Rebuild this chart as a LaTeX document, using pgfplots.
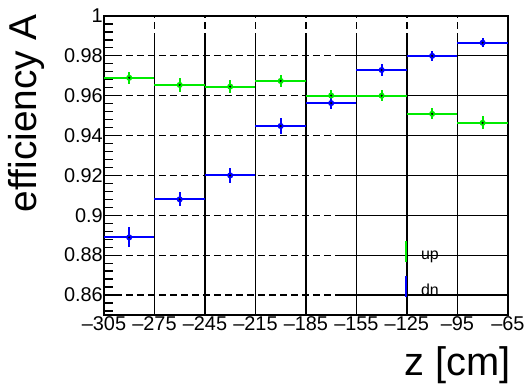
\documentclass[border=0pt]{standalone}
\usepackage{pgfplots}
\pgfplotsset{compat=1.18}
\usepackage{pgfplotstable}
\usepackage{fontspec}
\setmainfont{Liberation Sans}

\definecolor{upgreen}{RGB}{0,235,0}
\definecolor{dnblue}{RGB}{0,0,255}

% bin centre, efficiency, half bin width, stat. error
\pgfplotstableread{
x    y      ex  ey
-290 0.9690 15  0.0029
-260 0.9654 15  0.0033
-230 0.9646 15  0.0033
-200 0.9674 15  0.0030
-170 0.9601 15  0.0030
-140 0.9600 15  0.0027
-110 0.9509 15  0.0028
-80  0.9464 15  0.0033
}\uptable

\pgfplotstableread{
x    y      ex  ey
-290 0.8889 15  0.0050
-260 0.9080 15  0.0035
-230 0.9200 15  0.0039
-200 0.9448 15  0.0038
-170 0.9563 15  0.0030
-140 0.9729 15  0.0029
-110 0.9800 15  0.0025
-80  0.9866 15  0.0024
}\dntable

\pgfplotsset{
  histo/.style={forget plot, #1, line width=2bp, only marks, mark=none,
    error bars/.cd, x dir=both, x explicit, y dir=both, y explicit,
    error mark=none, error bar style={#1, line width=2bp, solid}},
  bincentre/.style={forget plot, only marks, mark=*, mark size=0.8bp,
    mark options={draw=black, fill=black}},
}

\begin{document}
\begin{tikzpicture}
\begin{axis}[
  at={(0,0)}, anchor=south west,
  scale only axis, width=404bp, height=299bp,
  xmin=-305, xmax=-65, ymin=0.85, ymax=1,
  xtick={-305,-275,-245,-215,-185,-155,-125,-95,-65},
  xticklabels={--305,--275,--245,--215,--185,--155,--125,--95,--65},
  ytick={0.86,0.88,0.9,0.92,0.94,0.96,0.98,1},
  yticklabels={0.86,0.88,0.9,0.92,0.94,0.96,0.98,1},
  minor ytick={0.852,0.856,0.864,0.868,0.872,0.876,0.884,0.888,0.892,0.896,
               0.904,0.908,0.912,0.916,0.924,0.928,0.932,0.936,0.944,0.948,
               0.952,0.956,0.964,0.968,0.972,0.976,0.984,0.988,0.992,0.996},
  xtick pos=bottom, ytick pos=left,
  tick align=inside,
  major tick length=13bp, minor tick length=9bp,
  tick style={black, line width=1.2bp},
  axis line style={black, line width=1.8bp},
  grid=major,
  major grid style={black, line width=1.2bp, dash pattern=on 7bp off 4bp},
  ticklabel style={font=\fontsize{20}{20}\selectfont},
  xticklabel style={inner sep=1.5bp},
  yticklabel style={inner sep=1bp},
  ylabel={efficiency A},
  ylabel style={at={(axis description cs:-0.1665,1.0067)}, anchor=base east,
                inner sep=0pt, font=\fontsize{39}{39}\selectfont},
  xlabel={z [cm]},
  xlabel style={at={(axis description cs:1.0074,-0.204)}, anchor=base east,
                inner sep=0pt, font=\fontsize{40}{40}\selectfont},
  legend cell align=left,
  legend style={draw=none, fill=none, inner sep=0pt,
                at={(axis description cs:0.745,0.251)}, anchor=north west,
                font=\fontsize{16}{16}\selectfont, row sep=11.5bp,
                nodes={inner sep=0pt},
                /tikz/every odd column/.append style={column sep=14bp}},
]
% solid grid segments over the dashed grid
\draw[black, line width=1.2bp, solid]
  (axis cs:-275,0.85) -- (axis cs:-275,0.989)
  (axis cs:-245,0.85) -- (axis cs:-245,0.989)
  (axis cs:-215,0.85) -- (axis cs:-215,0.989)
  (axis cs:-185,0.85) -- (axis cs:-185,0.989)
  (axis cs:-155,0.85) -- (axis cs:-155,0.989)
  (axis cs:-125,0.85) -- (axis cs:-125,0.989)
  (axis cs:-95,0.85)  -- (axis cs:-95,0.989)
  (axis cs:-165,0.86) -- (axis cs:-65,0.86)
  (axis cs:-165,0.88) -- (axis cs:-65,0.88)
  (axis cs:-165,0.90) -- (axis cs:-65,0.90)
  (axis cs:-165,0.92) -- (axis cs:-65,0.92)
  (axis cs:-165,0.94) -- (axis cs:-65,0.94)
  (axis cs:-165,0.96) -- (axis cs:-65,0.96)
  (axis cs:-165,0.98) -- (axis cs:-65,0.98);

\addplot[histo=upgreen]
  table[x=x, y=y, x error=ex, y error=ey] {\uptable};
\addplot[bincentre] table[x=x, y=y] {\uptable};
\addplot[histo=dnblue]
  table[x=x, y=y, x error=ex, y error=ey] {\dntable};
\addplot[bincentre] table[x=x, y=y] {\dntable};

\addlegendimage{legend image code/.code={
  \draw[upgreen, line width=2bp] (0bp,-6.5bp) -- (0bp,14.5bp);}}
\addlegendentry{up}
\addlegendimage{legend image code/.code={
  \draw[dnblue, line width=2bp] (0bp,-6.5bp) -- (0bp,14.5bp);}}
\addlegendentry{dn}
\end{axis}
\path (-104bp,-72bp) rectangle (422bp,315bp);
\end{tikzpicture}
\end{document}
